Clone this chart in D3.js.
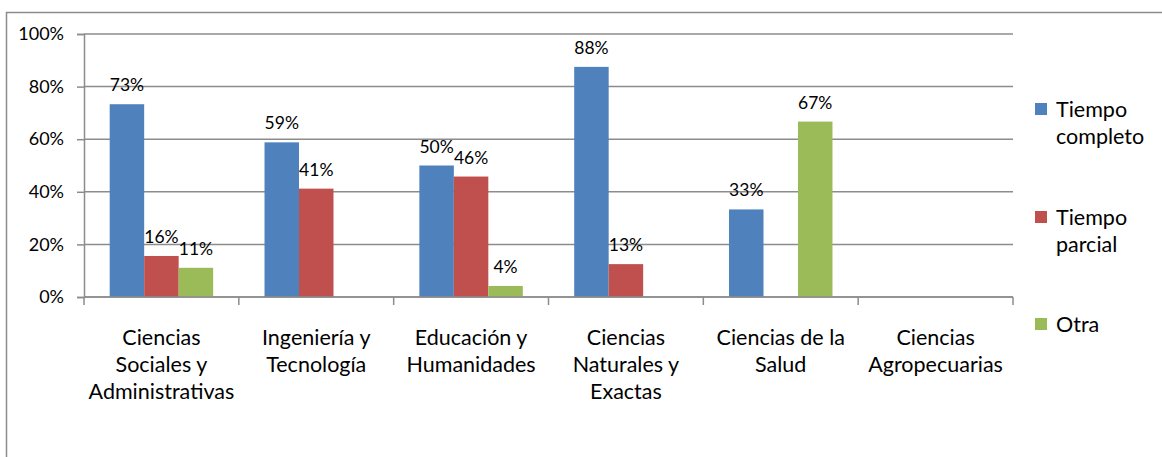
<!DOCTYPE html>
<html><head><meta charset="utf-8">
<script src="https://cdn.jsdelivr.net/npm/d3@7/dist/d3.min.js"></script>
<style>
html,body{margin:0;padding:0;background:#fff;}
svg{display:block;font-family:Lato,"Liberation Sans",sans-serif;}
</style></head>
<body>
<svg id="chart" width="1162" height="457"></svg>
<script>
const categories = [
  ["Ciencias","Sociales y","Administrativas"],
  ["Ingeniería y","Tecnología"],
  ["Educación y","Humanidades"],
  ["Ciencias","Naturales y","Exactas"],
  ["Ciencias de la","Salud"],
  ["Ciencias","Agropecuarias"]
];
const seriesNames = [["Tiempo","completo"],["Tiempo","parcial"],["Otra"]];
const tiempoCompleto = [0.733, 0.588, 0.5, 0.875, 0.333, null];
const tiempoParcial  = [0.156, 0.412, 0.458, 0.125, null, null];
const otra           = [0.111, null, 0.042, null, 0.667, null];
const yTicks = [0, 0.2, 0.4, 0.6, 0.8, 1.0];
const colors = ["#4F81BD","#C0504D","#9BBB59"];

const series = [tiempoCompleto, tiempoParcial, otra];
const svg = d3.select("#chart");

// outer frame
svg.append("rect").attr("x",6.5).attr("y",12.5).attr("width",1200).attr("height",500)
  .attr("fill","none").attr("stroke","#8c8c8c").attr("stroke-width",1.5);

const x0 = d3.scaleBand().domain(d3.range(categories.length)).range([84,1013]).paddingInner(0).paddingOuter(0);
const x1 = d3.scaleBand().domain(d3.range(series.length)).range([0,x0.bandwidth()]).paddingInner(0).paddingOuter(0.745);
const y = d3.scaleLinear().domain([0,1]).range([297,34]);
const fmt = d3.format(".0%");

// gridlines
svg.append("g").selectAll("line").data(yTicks).join("line")
  .attr("x1",84).attr("x2",1013).attr("y1",d=>y(d)).attr("y2",d=>y(d))
  .attr("stroke","#8c8c8c").attr("stroke-width",1.5);

// y axis
const yAxis = svg.append("g").attr("transform","translate(84,0)")
  .call(d3.axisLeft(y).tickValues(yTicks).tickFormat(fmt).tickSize(7).tickPadding(13));
yAxis.select(".domain").attr("stroke","#8c8c8c").attr("stroke-width",1.5);
yAxis.selectAll(".tick line").attr("stroke","#8c8c8c").attr("stroke-width",1.5);
yAxis.selectAll(".tick text").attr("font-size",18).attr("fill","#000").attr("font-family","Lato");

// bars
series.forEach((vals,si)=>{
  const g = svg.append("g");
  const data = vals.map((v,i)=>({i,v})).filter(d=>d.v!=null);
  g.selectAll("rect").data(data).join("rect")
    .attr("x",d=>x0(d.i)+x1(si)).attr("width",x1.bandwidth())
    .attr("y",d=>y(d.v)).attr("height",d=>y(0)-y(d.v)).attr("fill",colors[si]);
  g.selectAll("text").data(data).join("text")
    .attr("x",d=>x0(d.i)+x1(si)+x1.bandwidth()/2).attr("y",d=>y(d.v)-13)
    .attr("text-anchor","middle").attr("font-size",17.5).attr("fill","#000")
    .text(d=>fmt(d.v));
});

// x axis
svg.append("line").attr("x1",84).attr("x2",1013).attr("y1",y(0)).attr("y2",y(0))
  .attr("stroke","#8c8c8c").attr("stroke-width",1.5);
svg.append("g").selectAll("line").data(d3.range(categories.length+1)).join("line")
  .attr("x1",i=>84+i*x0.bandwidth()).attr("x2",i=>84+i*x0.bandwidth())
  .attr("y1",y(0)).attr("y2",y(0)+8).attr("stroke","#8c8c8c").attr("stroke-width",1.5);

// category labels
const cl = svg.append("g").selectAll("text").data(categories).join("text")
  .attr("text-anchor","middle").attr("font-size",21.5).attr("fill","#000");
cl.each(function(lines,i){
  d3.select(this).selectAll("tspan").data(lines).join("tspan")
    .attr("x",x0(i)+x0.bandwidth()/2).attr("y",(d,j)=>345+j*27).text(d=>d);
});

// legend
const legY = [103,211,318];
seriesNames.forEach((lines,si)=>{
  svg.append("rect").attr("x",1035).attr("y",legY[si]).attr("width",12).attr("height",12).attr("fill",colors[si]);
  const t = svg.append("text").attr("font-size",21.5).attr("fill","#000");
  t.selectAll("tspan").data(lines).join("tspan").attr("x",1056).attr("y",(d,j)=>legY[si]+14+j*27).text(d=>d);
});
</script>
</body></html>
